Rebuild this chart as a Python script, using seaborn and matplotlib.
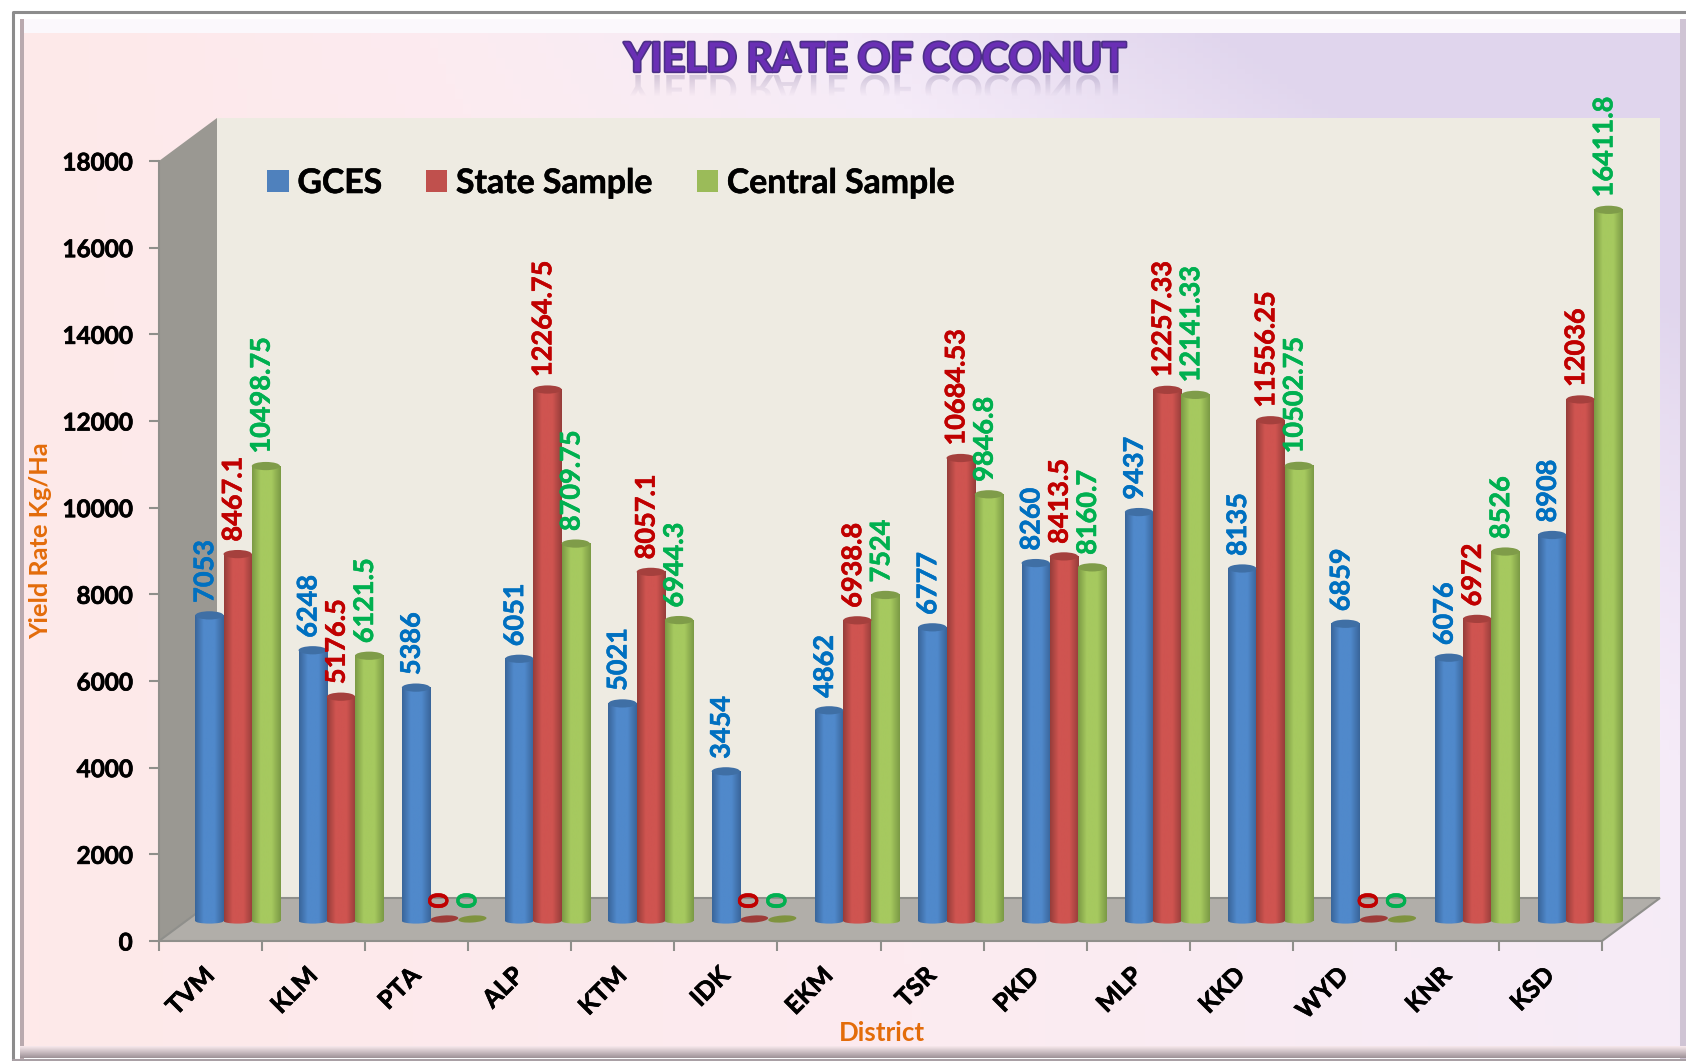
"""Yield rate of coconut - 3D look cylinder bars drawn over a seaborn barplot."""
import numpy as np
import pandas as pd
import matplotlib
matplotlib.use("Agg")
import matplotlib.pyplot as plt
import matplotlib.patheffects as pe
from matplotlib.colors import LinearSegmentedColormap
from matplotlib.font_manager import FontProperties
from matplotlib.patches import Ellipse, PathPatch, Polygon, Rectangle
from matplotlib.textpath import TextPath
from matplotlib.ticker import FixedLocator, NullFormatter
import seaborn as sns

# ── Data ──────────────────────────────────────────────────────────
districts = ["TVM", "KLM", "PTA", "ALP", "KTM", "IDK", "EKM",
             "TSR", "PKD", "MLP", "KKD", "WYD", "KNR", "KSD"]
gces = [7053, 6248, 5386, 6051, 5021, 3454, 4862,
        6777, 8260, 9437, 8135, 6859, 6076, 8908]
state_sample = [8467.1, 5176.5, 0, 12264.75, 8057.1, 0, 6938.8,
                10684.53, 8413.5, 12257.33, 11556.25, 0, 6972, 12036]
central_sample = [10498.75, 6121.5, 0, 8709.75, 6944.3, 0, 7524,
                  9846.8, 8160.7, 12141.33, 10502.75, 0, 8526, 16411.8]
series_names = ["GCES", "State Sample", "Central Sample"]
y_ticks = list(range(0, 18001, 2000))
chart_title = "YIELD RATE OF COCONUT"

# ── Style ─────────────────────────────────────────────────────────
sns.set_theme(style="white")
plt.rcParams["font.family"] = ["Lato", "DejaVu Sans"]
plt.rcParams["font.weight"] = "bold"

BAR_COLORS = {"GCES": "#4F81BD", "State Sample": "#C0504D", "Central Sample": "#9BBB59"}
LABEL_COLORS = {"GCES": "#0070C0", "State Sample": "#C00000", "Central Sample": "#00B050"}
SHADES = {
    "GCES": ("#39659A", "#5089CB"),
    "State Sample": ("#963D3A", "#CF5450"),
    "Central Sample": ("#7B9A45", "#A6C95F"),
}
CAPS = {"GCES": "#3F6FA5", "State Sample": "#A5403D", "Central Sample": "#7F9C49"}
DISCS = {"State Sample": "#9E3B38", "Central Sample": "#7F933F"}
W, H = 1686, 1061


def fig_box(left, top, right, bottom):
    # pixel box (from the top left) to figure fractions
    return [left / W, 1 - bottom / H, (right - left) / W, (bottom - top) / H]


def heavier(color, width=0.5):
    return [pe.withStroke(linewidth=width, foreground=color)]


fig = plt.figure(figsize=(W / 100, H / 100), dpi=100, facecolor="white")

# ── Panel background and 3D walls ─────────────────────────────────
bg = fig.add_axes([0, 0, 1, 1], zorder=0)
grad = LinearSegmentedColormap.from_list(
    "panel", ["#FEE9E9", "#FCEBF0", "#F5EBF8", "#E0D5ED"])
gx, gy = np.meshgrid(np.linspace(0, 1, 200), np.linspace(1, 0, 200))
bg.imshow(np.clip(gx * 0.62 + (gy ** 2.2) * gx * 0.75, 0, 1), cmap=grad, vmin=0, vmax=1,
          extent=(22, W, 1050, 33), aspect="auto", zorder=1)
# bevel and outer line
bg.add_patch(Rectangle((20, 19), W - 20, 14, fc="#FBF8FC", ec="none", zorder=2))
bg.add_patch(Rectangle((20, 19), 4, H - 19, fc="#B9A9AE", ec="none", zorder=2))
bg.add_patch(Rectangle((W - 6, 19), 6, H - 19, fc="#CFC4D4", ec="none", zorder=2))
bottom_shade = np.linspace(0, 1, 30).reshape(-1, 1)
bg.imshow(bottom_shade, cmap=LinearSegmentedColormap.from_list("b", ["#F7E8EC", "#9E9297"]),
          extent=(20, W, 1058, 1046), aspect="auto", zorder=2)
bg.plot([13, 13, W], [H, 11.5, 11.5], color="#8C8C8C", lw=2.2, zorder=3)
bg.plot([13, W], [1060, 1060], color="#A9A0A5", lw=1.5, zorder=3)
bg.set_xlim(0, W)
bg.set_ylim(H, 0)
bg.axis("off")

bg.add_patch(Polygon([(159, 161), (217, 118), (217, 898), (159, 941)], fc="#9A9892", ec="none", zorder=4))
bg.add_patch(Polygon([(217, 118), (1660, 118), (1660, 898), (217, 898)], fc="#EEEBE2", ec="none", zorder=4))
bg.add_patch(Polygon([(159, 941), (217, 898), (1660, 898), (1602, 941)], fc="#B1AEA9",
                     ec="#8F8F8B", lw=1.5, zorder=4))

# faint mirror image of the title (y axis is inverted here, so the path comes out flipped)
fp = FontProperties(family="Lato", weight="bold")
mirror = PathPatch(TextPath((625, 75), chart_title, size=40.3, prop=fp), fc="none", ec="none",
                   transform=bg.transData)
bg.add_patch(mirror)
fade = np.zeros((40, 1, 4))
fade[..., :3] = (0.42, 0.36, 0.55)
fade[..., 3] = np.linspace(0.26, 0.0, 40).reshape(-1, 1)
mirror_im = bg.imshow(fade, extent=(610, 1140, 97, 75), aspect="auto", zorder=2.5)
mirror_im.set_clip_path(mirror)
bg.set_xlim(0, W)
bg.set_ylim(H, 0)

# ── Front plane axes: ticks and labels ────────────────────────────
ax = fig.add_axes(fig_box(159, 161, 1602, 941), zorder=1)
ax.patch.set_alpha(0)
ax.set_xlim(-0.5, len(districts) - 0.5)
ax.set_ylim(0, 18000)
ax.set_yticks(y_ticks)
ax.set_xticks(range(len(districts)))
ax.set_xticklabels(districts, rotation=45, ha="right", va="center",
                   rotation_mode="anchor", fontsize=18, fontweight="bold")
ax.xaxis.set_minor_locator(FixedLocator(np.arange(-0.5, len(districts), 1)))
ax.xaxis.set_minor_formatter(NullFormatter())
ax.tick_params(axis="x", which="major", length=0, pad=22)
ax.tick_params(axis="x", which="minor", length=7, width=1.5, color="#8F8F8B", bottom=True)
ax.tick_params(axis="y", length=7, width=1.5, color="#8F8F8B", pad=12, left=True, labelsize=17.5)
for lab in ax.get_yticklabels() + ax.get_xticklabels():
    lab.set_fontweight("bold")
    lab.set_color("black")
    lab.set_path_effects(heavier("black"))
sns.despine(ax=ax, top=True, right=True, left=False, bottom=True)
ax.spines["left"].set_color("#8F8F8B")
ax.spines["left"].set_linewidth(1.5)

# ── Bars: mid depth plane, half way into the 3D box ───────────────
df = pd.DataFrame({"District": districts, "GCES": gces,
                   "State Sample": state_sample, "Central Sample": central_sample})
long_df = df.melt(id_vars="District", var_name="Series", value_name="Yield")

bar_ax = fig.add_axes(fig_box(186, 141, 1632, 921), zorder=2)
bar_ax.patch.set_alpha(0)
sns.barplot(data=long_df, x="District", y="Yield", hue="Series", order=districts,
            hue_order=series_names, palette=BAR_COLORS, width=0.82, gap=0,
            saturation=1, edgecolor="none", linewidth=0, ax=bar_ax)
bar_ax.set_xlim(-0.5, len(districts) - 0.5)
bar_ax.set_ylim(0, 18000)
bar_ax.axis("off")
bar_ax.get_legend().remove()
fig.canvas.draw()

cap_h = 190  # top cap height in data units
base_h = 120  # rounding at the foot of the cylinder
for name, cont in zip(series_names, bar_ax.containers):
    dark, light = SHADES[name]
    cmap = LinearSegmentedColormap.from_list(
        name, [(0, dark), (0.3, light), (0.68, light), (1, dark)])
    for patch, val in zip(cont.patches, df[name]):
        x0, w = patch.get_x(), patch.get_width()
        cx = x0 + w / 2
        if val == 0:
            # empty bar: only a flat tilted disc on the floor
            px, py = bg.transData.inverted().transform(bar_ax.transData.transform((cx, 0)))
            bg.add_patch(Ellipse((px, py - 2), w * 103, 7, angle=-4, fc=DISCS[name], ec="none", zorder=5))
        else:
            patch.set_visible(False)
            body = bar_ax.imshow(np.linspace(0, 1, 64).reshape(1, -1), cmap=cmap, aspect="auto",
                                 extent=(x0, x0 + w, 0, val), zorder=3)
            foot_shape = Ellipse((cx, 0), w, base_h, transform=bar_ax.transData)
            foot = bar_ax.imshow(np.linspace(0, 1, 64).reshape(1, -1), cmap=cmap, aspect="auto",
                                 extent=(x0, x0 + w, -base_h / 2, 0), zorder=3)
            foot.set_clip_box(fig.bbox)
            foot.set_clip_path(foot_shape)
            bar_ax.add_patch(Ellipse((cx, val), w, cap_h, fc=CAPS[name], ec="none", zorder=3.1))
        bar_ax.annotate(f"{val:.10g}", xy=(cx, val), xytext=(-3, 9),
                        textcoords="offset points", rotation=90, ha="center", va="bottom",
                        color=LABEL_COLORS[name], fontsize=19.5, fontweight="bold", zorder=5,
                        path_effects=heavier(LABEL_COLORS[name], 0.4), annotation_clip=False)
bar_ax.set_xlim(-0.5, len(districts) - 0.5)
bar_ax.set_ylim(0, 18000)

# ── Legend and titles ─────────────────────────────────────────────
handles = [Rectangle((0, 0), 1, 1, fc=BAR_COLORS[n], ec="none") for n in series_names]
leg = fig.legend(handles, series_names, loc="center left", bbox_to_anchor=(237 / W, 1 - 183 / H),
                 ncol=3, frameon=False, fontsize=24.3, handlelength=0.63, handleheight=0.63,
                 handletextpad=0.26, columnspacing=1.3)
for t in leg.get_texts():
    t.set_color("black")
    t.set_path_effects(heavier("black", 0.4))

fig.text(875 / W, 1 - 60 / H, chart_title, ha="center", va="center",
         fontsize=29, fontweight="bold", color="#6A2FB5",
         path_effects=[pe.withStroke(linewidth=2.4, foreground="#4B2F86")])
fig.text(41 / W, 1 - 541 / H, "Yield Rate Kg/Ha", rotation=90, ha="center", va="center",
         fontsize=18.3, fontweight="bold", color="#E36C0A")
fig.text(882 / W, 1 - 1033 / H, "District", ha="center", va="center",
         fontsize=18.6, fontweight="bold", color="#E36C0A")

fig.savefig("out.png", dpi=100)
